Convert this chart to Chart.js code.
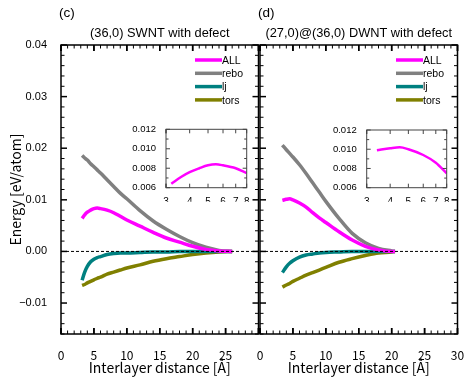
<!DOCTYPE html>
<html>
<head>
<meta charset="utf-8">
<script src="https://cdn.jsdelivr.net/npm/chart.js@4.4.0/dist/chart.umd.min.js"></script>
<style>
  body { margin: 0; background: #fff; }
  #wrap { position: relative; width: 474px; height: 380px; }
  #wrap canvas { position: absolute; left: 0; top: 0; }
</style>
</head>
<body>
<div id="wrap">
  <canvas id="mainC" width="474" height="380"></canvas>
  <canvas id="mainD" width="474" height="380"></canvas>
  <canvas id="insetC" width="474" height="380"></canvas>
  <canvas id="insetD" width="474" height="380"></canvas>
</div>
<script>
// series names / colours
const seriesNames = ['ALL', 'rebo', 'lj', 'tors'];
const seriesColors = ['#ff00ff', '#808080', '#008080', '#808000'];

// (c) (36,0) SWNT with defect
const distC = [3.2, 3.6, 4, 4.5, 5, 5.5, 6, 7, 8, 9, 10, 12, 14, 16, 18, 20, 22, 24, 26];
const allC  = [0.0064, 0.0071, 0.0076, 0.0080, 0.0083, 0.0084, 0.0083, 0.0080, 0.0075, 0.0068, 0.0061, 0.0049, 0.0037, 0.0026, 0.0018, 0.0010, 0.0004, 0.0001, 0];
const reboC = [0.0186, 0.0181, 0.0177, 0.0170, 0.0164, 0.0158, 0.0152, 0.0139, 0.0126, 0.0113, 0.0102, 0.0079, 0.0059, 0.0043, 0.0029, 0.0017, 0.0008, 0.0002, 0];
const ljC   = [-0.0056, -0.0040, -0.0029, -0.0020, -0.0015, -0.0012, -0.0010, -0.0006, -0.0004, -0.0003, -0.0003, -0.0002, -0.0001, -0.0001, 0, 0, 0, 0, 0];
const torsC = [-0.0066, -0.0064, -0.0061, -0.0058, -0.0055, -0.0052, -0.0050, -0.0044, -0.0040, -0.0036, -0.0032, -0.0026, -0.0019, -0.0014, -0.0010, -0.0006, -0.0003, -0.0001, 0];

// (d) (27,0)@(36,0) DWNT with defect
const distD = [3.4, 4, 4.5, 5, 6, 7, 8, 9, 10, 12, 14, 16, 18, 20, 20.5];
const allD  = [0.0099, 0.0101, 0.0102, 0.0100, 0.0094, 0.0086, 0.0075, 0.0065, 0.0056, 0.0038, 0.0022, 0.0010, 0.0003, 0, 0];
const reboD = [0.0206, 0.0197, 0.0190, 0.0183, 0.0168, 0.0151, 0.0133, 0.0115, 0.0097, 0.0064, 0.0035, 0.0017, 0.0006, 0.0001, 0];
const ljD   = [-0.0041, -0.0030, -0.0023, -0.0018, -0.0011, -0.0007, -0.0005, -0.0003, -0.0002, -0.0001, 0, 0, 0, 0, 0];
const torsD = [-0.0069, -0.0065, -0.0062, -0.0058, -0.0052, -0.0046, -0.0041, -0.0036, -0.0031, -0.0021, -0.0014, -0.0008, -0.0003, -0.0001, 0];

// ticks
const yTicks = [-0.01, 0, 0.01, 0.02, 0.03, 0.04];
const yTickLabels = ['\u22120.01', '0.00', '0.01', '0.02', '0.03', '0.04'];
const xTicksC = [0, 5, 10, 15, 20, 25];
const xTicksD = [0, 5, 10, 15, 20, 25, 30];
const insetXTicks = [3, 4, 5, 6, 7, 8];
const insetYTicks = [0.006, 0.008, 0.010, 0.012];
const insetYLabels = ['0.006', '0.008', '0.010', '0.012'];

const xTitle = 'Interlayer distance [\u00c5]';
const yTitle = 'Energy [eV/atom]';

Chart.defaults.font.family = "'Liberation Sans', Arial, sans-serif";
Chart.defaults.color = '#000';

function toPoints(xs, ys) {
    return xs.map((x, i) => ({ x: x, y: ys[i] }));
}

// 内向きの目盛りと枠線
const frameTicks = {
    id: 'frameTicks',
    afterDatasetsDraw(chart, args, o) {
        const { ctx, chartArea: a, scales: { x, y } } = chart;
        const line = (x0, y0, x1, y1) => {
            ctx.beginPath(); ctx.moveTo(x0, y0); ctx.lineTo(x1, y1); ctx.stroke();
        };
        ctx.save();
        ctx.strokeStyle = o.color;
        if (o.zeroLine) {
            ctx.setLineDash([3, 2]);
            ctx.lineWidth = 1;
            const py = y.getPixelForValue(0);
            line(a.left, py, a.right, py);
            ctx.setLineDash([]);
        }
        const xs = [];
        for (let v = x.min; v <= x.max + 1e-9; v += o.xStep) xs.push(+v.toFixed(6));
        o.xMajor.forEach(v => xs.push(v));
        xs.forEach(v => {
            const major = o.xMajor.includes(v);
            const len = major ? o.major : o.minor;
            ctx.lineWidth = major ? o.majorWidth : 1;
            const px = x.getPixelForValue(v);
            line(px, a.bottom, px, a.bottom - len);
            line(px, a.top, px, a.top + len);
        });
        for (let v = Math.ceil(y.min / o.yStep - 1e-6) * o.yStep; v <= y.max + 1e-9; v += o.yStep) {
            const r = +v.toFixed(6);
            const major = o.yMajor.some(m => Math.abs(m - r) < 1e-7);
            const len = major ? o.major : o.minor;
            ctx.lineWidth = major ? o.majorWidth : 1;
            const py = y.getPixelForValue(r);
            line(a.left, py, a.left + len, py);
            line(a.right, py, a.right - len, py);
        }
        ctx.lineWidth = o.frameWidth;
        ctx.strokeRect(a.left, a.top, a.right - a.left, a.bottom - a.top);
        ctx.restore();
    }
};

// パネル記号とタイトル、凡例
const panelText = {
    id: 'panelText',
    afterDraw(chart, args, o) {
        const { ctx, chartArea: a } = chart;
        ctx.save();
        ctx.fillStyle = '#000';
        ctx.textBaseline = 'middle';
        ctx.font = "13.5px 'Liberation Sans', Arial";
        ctx.textAlign = 'left';
        ctx.fillText(o.letter, o.letterX, 13);
        ctx.font = "12.8px 'Liberation Sans', Arial";
        ctx.textAlign = 'center';
        ctx.fillText(o.title, (a.left + a.right) / 2, 33);
        // legend
        ctx.font = "10.5px 'Liberation Sans', Arial";
        ctx.textAlign = 'left';
        chart.data.datasets.forEach((ds, i) => {
            const ly = o.legendY + i * o.legendDy;
            ctx.strokeStyle = ds.borderColor;
            ctx.lineWidth = 3.5;
            ctx.beginPath(); ctx.moveTo(o.legendX, ly); ctx.lineTo(o.legendX + 27, ly); ctx.stroke();
            ctx.fillText(ds.label, o.legendX + 27, ly + 1);
        });
        ctx.restore();
    }
};

function mainChart(id, dist, series, xTicks, opts) {
    return new Chart(document.getElementById(id), {
        type: 'line',
        data: {
            datasets: series.map((s, i) => ({
                label: seriesNames[i],
                data: toPoints(dist, s),
                borderColor: seriesColors[i],
                borderWidth: 3.5,
                pointRadius: 0,
                fill: false,
                cubicInterpolationMode: 'monotone'
            }))
        },
        options: {
            responsive: false,
            animation: false,
            devicePixelRatio: 1,
            events: [],
            layout: { padding: opts.padding },
            plugins: {
                legend: { display: false },
                tooltip: { enabled: false },
                frameTicks: {
                    color: '#000', zeroLine: true, xStep: 1, yStep: 0.002,
                    xMajor: xTicksD, yMajor: yTicks, major: 6, minor: 3.5, majorWidth: 1.5, frameWidth: 1.5
                },
                panelText: opts.text
            },
            scales: {
                x: {
                    type: 'linear', min: 0, max: 30,
                    grid: { display: false },
                    border: { display: false },
                    afterBuildTicks: s => { s.ticks = xTicks.map(v => ({ value: v })); },
                    afterFit: s => { s.height = 46; },
                    ticks: { padding: 6, font: { family: "'Noto Sans CJK JP'", size: 12 } },
                    title: {
                        display: true, text: xTitle, padding: { top: 0, bottom: 4 },
                        font: { family: "'Noto Sans CJK JP'", size: 14 }
                    }
                },
                y: {
                    display: opts.showY, min: -0.016, max: 0.04,
                    grid: { display: false },
                    border: { display: false },
                    afterBuildTicks: s => { s.ticks = yTicks.map(v => ({ value: v })); },
                    afterFit: s => { s.width = opts.showY ? 61 : 0; },
                    ticks: {
                        padding: 6, font: { size: 11 },
                        callback: (v, i) => yTickLabels[i]
                    },
                    title: {
                        display: true, text: yTitle, padding: { top: 7, bottom: 0 },
                        font: { family: "'Noto Sans CJK JP'", size: 14 }
                    }
                }
            }
        },
        plugins: [frameTicks, panelText]
    });
}

function insetChart(id, dist, values, padding) {
    const xs = dist.filter(x => x <= 8);
    return new Chart(document.getElementById(id), {
        type: 'line',
        data: {
            datasets: [{
                label: seriesNames[0],
                data: toPoints(xs, values),
                borderColor: seriesColors[0],
                borderWidth: 2.5,
                pointRadius: 0,
                fill: false,
                cubicInterpolationMode: 'monotone'
            }]
        },
        options: {
            responsive: false,
            animation: false,
            devicePixelRatio: 1,
            events: [],
            layout: { padding: padding },
            plugins: {
                legend: { display: false },
                tooltip: { enabled: false },
                frameTicks: {
                    color: '#444', zeroLine: false, xStep: 100, yStep: 0.001,
                    xMajor: insetXTicks, yMajor: insetYTicks, major: 4, minor: 2.5, majorWidth: 1, frameWidth: 1
                }
            },
            scales: {
                x: {
                    type: 'logarithmic', min: 3, max: 8,
                    grid: { display: false },
                    border: { display: false },
                    afterBuildTicks: s => { s.ticks = insetXTicks.map(v => ({ value: v })); },
                    afterFit: s => { s.height = 14; },
                    ticks: { padding: 1, font: { size: 10 }, maxRotation: 0, autoSkip: false, callback: (v, i) => String(insetXTicks[i]) }
                },
                y: {
                    min: 0.006, max: 0.012,
                    grid: { display: false },
                    border: { display: false },
                    afterBuildTicks: s => { s.ticks = insetYTicks.map(v => ({ value: v })); },
                    afterFit: s => { s.width = 40; },
                    ticks: { padding: 2, font: { size: 9.5 }, callback: (v, i) => insetYLabels[i] }
                }
            }
        },
        plugins: [frameTicks]
    });
}

mainChart('mainC', distC, [allC, reboC, ljC, torsC], xTicksC, {
    padding: { left: 0, right: 215.5, top: 45, bottom: 0 },
    showY: true,
    text: { letter: '(c)', letterX: 59, title: '(36,0) SWNT with defect', legendX: 195, legendY: 60, legendDy: 13.3 }
});
mainChart('mainD', distD, [allD, reboD, ljD, torsD], xTicksD, {
    padding: { left: 260, right: 16.5, top: 45, bottom: 0 },
    showY: false,
    text: { letter: '(d)', letterX: 258, title: '(27,0)@(36,0) DWNT with defect', legendX: 396, legendY: 60, legendDy: 13.3 }
});
insetChart('insetC', distC, allC.slice(0, distC.filter(x => x <= 8).length),
    { left: 126, right: 227.3, top: 129.3, bottom: 178.3 });
insetChart('insetD', distD, allD.slice(0, distD.filter(x => x <= 8).length),
    { left: 326.7, right: 27.3, top: 130, bottom: 178.3 });
</script>
</body>
</html>
